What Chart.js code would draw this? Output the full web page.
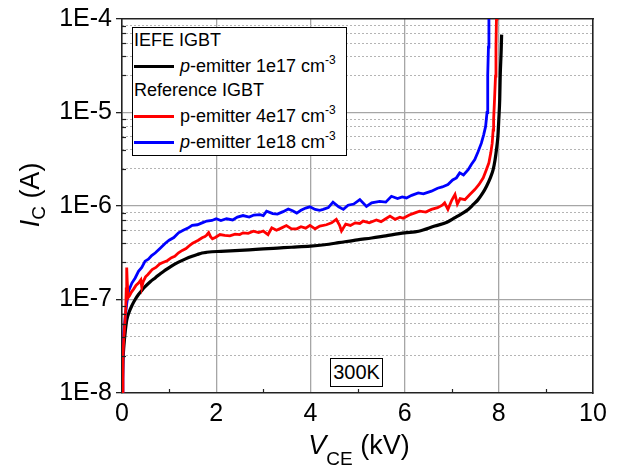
<!DOCTYPE html>
<html><head><meta charset="utf-8">
<script src="https://cdn.jsdelivr.net/npm/chart.js@4.4.1/dist/chart.umd.min.js"></script>
<style>
html,body{margin:0;padding:0;background:#fff;}
#wrap{position:relative;width:621px;height:468px;font-family:"Liberation Sans",Arial,sans-serif;color:#000;overflow:hidden;}
#c{position:absolute;left:0;top:0;}
.legend{position:absolute;left:132px;top:27px;width:213px;height:127px;border:1.5px solid #000;background:#fff;font-size:18px;}
.row{position:absolute;left:1px;height:22px;line-height:22px;white-space:nowrap;}
.sw{display:inline-block;width:40px;height:3px;vertical-align:middle;margin-right:6px;position:relative;top:-1px;}
.row sup{font-size:12px;vertical-align:8px;line-height:0;}
.temp{position:absolute;left:330px;top:358px;width:51px;height:27px;border:1.2px solid #000;background:#fff;font-size:20px;line-height:27px;text-align:center;}
.xt{position:absolute;left:209px;top:431px;width:300px;height:28px;line-height:28px;font-size:27px;text-align:center;white-space:nowrap;}
.xt sub{font-size:19px;vertical-align:-11px;line-height:0;}
.yt{position:absolute;left:-70px;top:181px;width:200px;height:28px;line-height:28px;font-size:27px;text-align:center;white-space:nowrap;transform:rotate(-90deg);transform-origin:50% 50%;}
.yt sub{font-size:19px;vertical-align:-6px;line-height:0;}
</style></head>
<body>
<div id="wrap">
<canvas id="c" width="621" height="468"></canvas>
<div class="yt"><i>I</i><sub>C</sub> (A)</div>
<div class="xt"><i>V</i><sub>CE</sub> (kV)</div>
<div class="legend" id="legend"></div>
<div class="temp" id="temp"></div>
</div>
<script>
// ---------------- data ----------------
const xTickValues = [0, 2, 4, 6, 8, 10];
const xMinorValues = [1, 3, 5, 7, 9];
const yTickValues = [1e-8, 1e-7, 1e-6, 1e-5, 1e-4];
const yTickLabels = ['1E-8', '1E-7', '1E-6', '1E-5', '1E-4'];
const yMinorMantissas = [2.5, 4, 5.5, 7, 8.5];
const temperatureLabel = '300K';

const groupTitles = ['IEFE IGBT', 'Reference IGBT'];
const seriesNames = ['p-emitter 1e17 cm', 'p-emitter 4e17 cm', 'p-emitter 1e18 cm'];
const seriesColors = ['#000000', '#ff0000', '#0000ff'];

const blackV = [0, 0.02, 0.04, 0.07, 0.1, 0.15, 0.21, 0.28, 0.35, 0.42, 0.49, 0.6, 0.71, 0.82, 0.92, 1.05, 1.2, 1.35, 1.49, 1.6, 1.7, 1.8, 1.91, 2.1, 2.4, 2.7, 3.0, 3.3, 3.6, 4.0, 4.3, 4.6, 5.0, 5.3, 5.6, 6.0, 6.3, 6.64, 6.9, 7.07, 7.2, 7.35, 7.46, 7.56, 7.66, 7.74, 7.82, 7.88, 7.92, 7.95, 7.98, 8.0, 8.02, 8.03, 8.05, 8.06];
const blackI = [1e-8, 2.2e-8, 3.2e-8, 4.6e-8, 6.0e-8, 7.3e-8, 8.6e-8, 1.0e-7, 1.13e-7, 1.25e-7, 1.37e-7, 1.55e-7, 1.71e-7, 1.9e-7, 2.06e-7, 2.28e-7, 2.51e-7, 2.72e-7, 2.9e-7, 3.03e-7, 3.14e-7, 3.2e-7, 3.24e-7, 3.27e-7, 3.33e-7, 3.4e-7, 3.48e-7, 3.55e-7, 3.62e-7, 3.72e-7, 3.85e-7, 4.05e-7, 4.35e-7, 4.55e-7, 4.8e-7, 5.15e-7, 5.37e-7, 6.1e-7, 6.7e-7, 7.5e-7, 8.2e-7, 9.2e-7, 1.04e-6, 1.17e-6, 1.38e-6, 1.63e-6, 2.0e-6, 2.45e-6, 3.1e-6, 4.0e-6, 5.5e-6, 8.4e-6, 1.4e-5, 2.45e-5, 4.5e-5, 6.8e-5];

const redV = [0, 0.02, 0.04, 0.06, 0.08, 0.09, 0.1, 0.11, 0.13, 0.16, 0.2, 0.25, 0.3, 0.35, 0.4, 0.42, 0.45, 0.5, 0.55, 0.64, 0.72, 0.8, 0.88, 0.96, 1.05, 1.12, 1.2, 1.28, 1.36, 1.44, 1.5, 1.56, 1.62, 1.7, 1.76, 1.8, 1.84, 1.88, 1.92, 1.98, 2.08, 2.18, 2.29, 2.4, 2.5, 2.57, 2.68, 2.79, 2.9, 3.0, 3.1, 3.18, 3.28, 3.38, 3.49, 3.6, 3.71, 3.8, 3.9, 3.99, 4.1, 4.2, 4.34, 4.45, 4.55, 4.62, 4.66, 4.75, 4.85, 4.95, 5.05, 5.12, 5.25, 5.4, 5.5, 5.6, 5.69, 5.8, 5.9, 5.97, 6.1, 6.22, 6.32, 6.45, 6.57, 6.7, 6.8, 6.85, 6.92, 7.0, 7.07, 7.12, 7.18, 7.28, 7.38, 7.49, 7.58, 7.67, 7.73, 7.79, 7.83, 7.86, 7.88, 7.89, 7.91, 7.93, 7.94, 7.95, 7.96];
const redI = [1e-8, 2.5e-8, 4.0e-8, 5.5e-8, 8e-8, 1.3e-7, 2.2e-7, 1.6e-7, 1.05e-7, 1.1e-7, 1.2e-7, 1.3e-7, 1.42e-7, 1.5e-7, 1.62e-7, 1.35e-7, 1.55e-7, 1.75e-7, 1.85e-7, 2.09e-7, 2.2e-7, 2.4e-7, 2.5e-7, 2.6e-7, 2.8e-7, 2.9e-7, 3.16e-7, 3.35e-7, 3.5e-7, 3.8e-7, 4.0e-7, 4.15e-7, 4.3e-7, 4.57e-7, 4.7e-7, 4.9e-7, 5.2e-7, 4.7e-7, 4.45e-7, 4.6e-7, 4.95e-7, 4.85e-7, 4.8e-7, 5.0e-7, 4.95e-7, 5.16e-7, 5.1e-7, 5.37e-7, 5.2e-7, 5.4e-7, 4.95e-7, 5.85e-7, 5.5e-7, 5.8e-7, 6.17e-7, 5.7e-7, 5.7e-7, 6.0e-7, 5.8e-7, 6.2e-7, 5.7e-7, 6.1e-7, 6.3e-7, 6.6e-7, 7.2e-7, 6.2e-7, 5.4e-7, 6.4e-7, 6.2e-7, 6.6e-7, 6.5e-7, 6.9e-7, 6.6e-7, 7.1e-7, 6.8e-7, 7.3e-7, 7.8e-7, 7.2e-7, 7.6e-7, 7.4e-7, 8.0e-7, 8.45e-7, 8.8e-7, 8.6e-7, 9.2e-7, 9.6e-7, 1.02e-6, 1.08e-6, 9.2e-7, 1.15e-6, 1.33e-6, 1.05e-6, 1.2e-6, 1.17e-6, 1.32e-6, 1.5e-6, 1.7e-6, 2.0e-6, 2.4e-6, 2.9e-6, 3.7e-6, 4.7e-6, 6.5e-6, 8.4e-6, 1.4e-5, 2.45e-5, 5e-5, 1e-4, 1.5e-4];

const blueV = [0, 0.02, 0.04, 0.07, 0.1, 0.14, 0.21, 0.28, 0.35, 0.42, 0.49, 0.56, 0.63, 0.71, 0.8, 0.92, 1.0, 1.1, 1.2, 1.3, 1.4, 1.49, 1.6, 1.7, 1.8, 1.91, 2.0, 2.1, 2.22, 2.35, 2.45, 2.57, 2.7, 2.8, 2.93, 3.0, 3.07, 3.2, 3.3, 3.42, 3.53, 3.62, 3.71, 3.8, 3.9, 3.99, 4.1, 4.2, 4.27, 4.38, 4.48, 4.6, 4.7, 4.8, 4.92, 5.05, 5.19, 5.3, 5.47, 5.6, 5.72, 5.85, 5.95, 6.04, 6.15, 6.29, 6.4, 6.57, 6.7, 6.8, 6.92, 7.02, 7.1, 7.17, 7.25, 7.35, 7.42, 7.49, 7.56, 7.63, 7.68, 7.72, 7.75, 7.76, 7.77, 7.78, 7.79];
const blueI = [1e-8, 3e-8, 4.5e-8, 6.6e-8, 9e-8, 1.23e-7, 1.5e-7, 1.7e-7, 2.0e-7, 2.2e-7, 2.57e-7, 2.7e-7, 2.95e-7, 3.16e-7, 3.5e-7, 4.0e-7, 4.3e-7, 4.6e-7, 5.16e-7, 5.5e-7, 5.8e-7, 6.2e-7, 6.3e-7, 6.6e-7, 6.9e-7, 7.0e-7, 7.3e-7, 7.0e-7, 7.3e-7, 7.1e-7, 7.6e-7, 7.9e-7, 7.6e-7, 8.0e-7, 8.1e-7, 7.9e-7, 8.8e-7, 8.3e-7, 8.2e-7, 8.7e-7, 9.3e-7, 8.9e-7, 8.4e-7, 9.0e-7, 9.5e-7, 9.8e-7, 9.2e-7, 9.0e-7, 9.2e-7, 9.6e-7, 1.1e-6, 9.8e-7, 9.2e-7, 1.02e-6, 1.05e-6, 1.17e-6, 9.9e-7, 1.08e-6, 1.12e-6, 1.1e-6, 1.27e-6, 1.2e-6, 1.25e-6, 1.22e-6, 1.3e-6, 1.38e-6, 1.35e-6, 1.44e-6, 1.55e-6, 1.6e-6, 1.7e-6, 1.9e-6, 2.0e-6, 2.26e-6, 2.15e-6, 2.45e-6, 2.8e-6, 3.14e-6, 3.8e-6, 4.7e-6, 5.8e-6, 7.1e-6, 1e-5, 1.5e-5, 2.5e-5, 5e-5, 1.2e-4];

// ---------------- helpers ----------------
const toPts = (xs, ys) => xs.map((v, i) => ({x: v, y: ys[i]}));
const yMinorValues = [];
for (let d = -8; d < -4; d++) yMinorMantissas.forEach(m => yMinorValues.push(m * Math.pow(10, d)));

// legend (HTML)
const leg = document.getElementById('legend');
function addRow(top, html) { const r = document.createElement('div'); r.className = 'row'; r.style.top = top + 'px'; r.innerHTML = html; leg.appendChild(r); }
const pHtml = (name, italic) => (italic ? '<i>p</i>' : 'p') + name.slice(1);
addRow(1, groupTitles[0]);
addRow(27, '<span class="sw" style="background:' + seriesColors[0] + '"></span>' + pHtml(seriesNames[0], true) + '<sup>-3</sup>');
addRow(51, groupTitles[1]);
addRow(77, '<span class="sw" style="background:' + seriesColors[1] + '"></span>' + pHtml(seriesNames[1], false) + '<sup>-3</sup>');
addRow(103, '<span class="sw" style="background:' + seriesColors[2] + '"></span>' + pHtml(seriesNames[2], true) + '<sup>-3</sup>');
document.getElementById('temp').textContent = temperatureLabel;

const FONT = '"Liberation Sans", Arial, sans-serif';
const AXC = '#222';
const GRIDC = '#a6a6a6';
const MINC = '#b4b4b4';

const minorTicks = {
  id: 'minorTicks',
  afterDraw(chart) {
    const {ctx, chartArea: a, scales} = chart;
    ctx.save();
    ctx.strokeStyle = AXC; ctx.lineWidth = 1.2;
    xMinorValues.forEach(v => { const px = Math.round(scales.x.getPixelForValue(v)) + 0.5; ctx.beginPath(); ctx.moveTo(px, a.bottom); ctx.lineTo(px, a.bottom - 4); ctx.stroke(); });
    yMinorValues.forEach(v => { const py = Math.round(scales.y.getPixelForValue(v)) + 0.5; ctx.beginPath(); ctx.moveTo(a.left, py); ctx.lineTo(a.left + 4, py); ctx.stroke(); });
    ctx.restore();
  }
};

const ends = (v, lo, hi) => (v <= lo * 1.0001 || v >= hi * 0.9999);

new Chart(document.getElementById('c'), {
  type: 'line',
  data: {
    datasets: [
      {label: seriesNames[0], data: toPts(blackV, blackI), borderColor: seriesColors[0], borderWidth: 3.2, pointRadius: 0, cubicInterpolationMode: 'monotone', order: 2},
      {label: seriesNames[1], data: toPts(redV, redI), borderColor: seriesColors[1], borderWidth: 2.8, pointRadius: 0, tension: 0, order: 0},
      {label: seriesNames[2], data: toPts(blueV, blueI), borderColor: seriesColors[2], borderWidth: 2.8, pointRadius: 0, tension: 0, order: 1}
    ]
  },
  options: {
    responsive: false,
    animation: false,
    events: [],
    layout: {padding: {left: 0, right: 28, top: 19, bottom: 0}},
    plugins: {legend: {display: false}, tooltip: {enabled: false}},
    scales: {
      x: {
        type: 'linear', position: 'bottom', min: 0, max: 10,
        afterBuildTicks: s => { s.ticks = xTickValues.map(v => ({value: v})); },
        ticks: {font: {family: FONT, size: 25}, color: '#000', padding: 6, maxRotation: 0, autoSkip: false},
        grid: {color: c => (c.tick && (c.tick.value === 0 || c.tick.value === 10)) ? 'rgba(0,0,0,0)' : GRIDC, lineWidth: 1.3, drawTicks: false},
        border: {color: AXC, width: 1.6},
        afterFit: s => { s.height = 75; }
      },
      xTop: {
        type: 'linear', position: 'top', min: 0, max: 10,
        ticks: {display: false}, grid: {display: false, drawTicks: false},
        border: {color: AXC, width: 1.6},
        afterFit: s => { s.height = 0; }
      },
      yMinor: {
        type: 'logarithmic', position: 'left', min: 1e-8, max: 1e-4,
        afterBuildTicks: s => { s.ticks = yMinorValues.map(v => ({value: v})); },
        ticks: {display: false},
        grid: {display: true, drawOnChartArea: true, color: MINC, lineWidth: 1, drawTicks: false},
        border: {display: false, dash: [2, 2]},
        afterFit: s => { s.width = 0; }
      },
      y: {
        type: 'logarithmic', position: 'left', min: 1e-8, max: 1e-4,
        afterBuildTicks: s => { s.ticks = yTickValues.map(v => ({value: v, major: true})); },
        ticks: {font: {family: FONT, size: 25}, color: '#000', padding: 4, autoSkip: false,
          callback: (v) => yTickLabels[yTickValues.findIndex(t => Math.abs(Math.log10(t) - Math.log10(v)) < 1e-6)]},
        grid: {color: c => (c.tick && ends(c.tick.value, 1e-8, 1e-4)) ? 'rgba(0,0,0,0)' : GRIDC, lineWidth: 1.3, tickColor: AXC, tickLength: 6, tickWidth: 1.3},
        border: {color: AXC, width: 1.6},
        afterFit: s => { s.width = 122; }
      },
      yRight: {
        type: 'logarithmic', position: 'right', min: 1e-8, max: 1e-4,
        ticks: {display: false}, grid: {display: false, drawTicks: false},
        border: {color: AXC, width: 1.6},
        afterFit: s => { s.width = 0; }
      }
    }
  },
  plugins: [minorTicks]
});
</script>
</body></html>
